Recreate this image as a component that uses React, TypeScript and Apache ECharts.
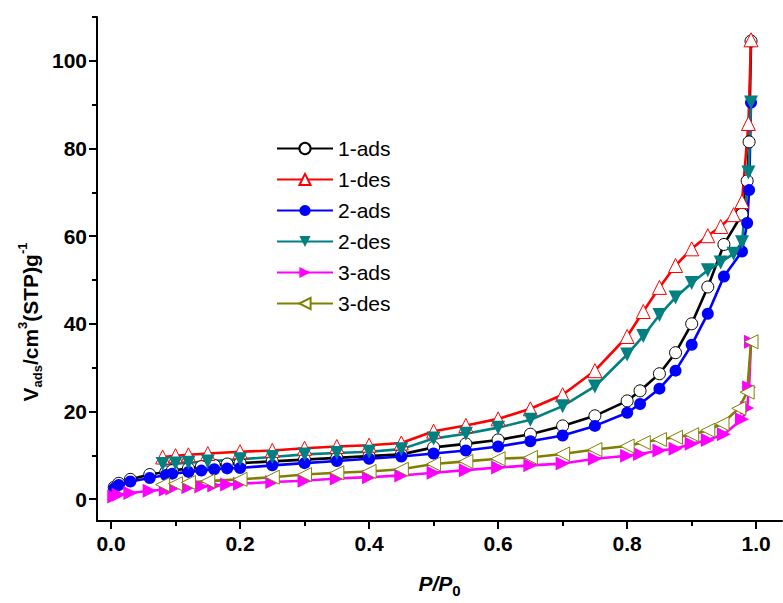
import React, { useEffect, useRef } from "react";
import * as echarts from "echarts";

// Relative pressure values (P/P0)
const adsP = [0.005, 0.012, 0.03, 0.06, 0.085, 0.095, 0.12, 0.14, 0.16, 0.18, 0.2, 0.25, 0.3, 0.35, 0.4, 0.45, 0.5, 0.55, 0.6, 0.65, 0.7, 0.75, 0.8, 0.82, 0.85, 0.875, 0.9, 0.925, 0.95, 0.978, 0.986, 0.989, 0.992];
const desP = [0.08, 0.1, 0.12, 0.15, 0.2, 0.25, 0.3, 0.35, 0.4, 0.45, 0.5, 0.55, 0.6, 0.65, 0.7, 0.75, 0.8, 0.825, 0.85, 0.875, 0.9, 0.925, 0.945, 0.965, 0.978, 0.988, 0.992];
const des3P = [0.08, 0.1, 0.12, 0.15, 0.2, 0.25, 0.3, 0.35, 0.4, 0.45, 0.5, 0.55, 0.6, 0.65, 0.7, 0.75, 0.8, 0.825, 0.85, 0.875, 0.9, 0.925, 0.947, 0.973, 0.986, 0.992];

// Adsorbed volumes (cm3(STP)/g)
const ads1 = [2.7, 3.6, 4.5, 5.6, 6.2, 6.5, 7.0, 7.4, 7.7, 8.0, 8.2, 8.6, 9.0, 9.4, 9.8, 10.2, 11.8, 12.6, 13.5, 14.8, 16.7, 19.0, 22.4, 24.7, 28.6, 33.4, 40.0, 48.4, 58.1, 65.0, 72.6, 81.5, 104.5];
const des1 = [9.6, 9.9, 10.1, 10.4, 10.8, 11.1, 11.6, 12.0, 12.3, 12.8, 15.5, 16.8, 18.3, 20.6, 23.8, 29.3, 37.1, 42.8, 48.3, 53.3, 57.1, 60.1, 62.2, 64.9, 67.9, 85.7, 104.8];
const ads2 = [2.4, 3.2, 4.0, 4.8, 5.5, 5.8, 6.2, 6.5, 6.8, 7.0, 7.1, 7.7, 8.2, 8.7, 9.2, 9.7, 10.4, 11.1, 12.0, 13.2, 14.5, 16.7, 19.7, 21.7, 25.2, 29.3, 35.2, 42.3, 50.8, 56.5, 63.0, 70.5, 90.5];
const des2 = [8.0, 8.1, 8.3, 8.6, 9.1, 9.6, 10.2, 10.5, 10.8, 11.4, 13.8, 14.9, 16.3, 18.1, 21.2, 25.7, 33.0, 37.2, 42.0, 46.0, 49.3, 52.2, 54.0, 56.0, 58.6, 74.5, 90.5];
const ads3 = [0.6, 1.0, 1.4, 1.9, 2.2, 2.4, 2.7, 2.9, 3.1, 3.3, 3.5, 3.9, 4.2, 4.7, 5.0, 5.4, 6.0, 6.6, 7.2, 7.7, 8.1, 9.2, 9.9, 10.3, 11.1, 11.5, 12.6, 13.5, 14.8, 18.2, 20.8, 25.5, 35.9];
const des3 = [3.3, 3.5, 3.8, 4.1, 4.5, 5.0, 5.6, 6.0, 6.3, 6.8, 8.0, 8.6, 9.2, 9.5, 10.3, 11.3, 12.1, 12.9, 13.6, 14.1, 14.7, 15.7, 17.2, 20.7, 24.4, 35.9];

// Ticks
const xMajorTicks = [0, 0.2, 0.4, 0.6, 0.8, 1.0];
const xMinorTicks = [0.1, 0.3, 0.5, 0.7, 0.9];
const yMajorTicks = [0, 20, 40, 60, 80, 100];
const yMinorTicks = [10, 30, 50, 70, 90, 110];

const FONT = 'Arial, "Liberation Sans", sans-serif';

const pairs = (xs: number[], ys: number[]) => xs.map((x, i) => [x, ys[i]]);

export default function App() {
  const ref = useRef<HTMLDivElement>(null);
  useEffect(() => {
    if (!ref.current) return;
    const chart = echarts.init(ref.current, null, { renderer: "svg" });
    const xMin = -0.0217, xMax = 1.04, yMin = -5, yMax = 110;
    const axisColor = "#000";
    const mk = (name: string, xs: number[], ys: number[], color: string, symbol: string, rotate: number, open: boolean, size: number) => ({
      name,
      type: "line",
      data: pairs(xs, ys),
      symbol,
      symbolRotate: rotate,
      symbolSize: size,
      showAllSymbol: true,
      lineStyle: { color, width: 2.6 },
      itemStyle: open
        ? { color: "#ffffff", borderColor: color, borderWidth: 1, opacity: 1 }
        : { color, borderColor: color, borderWidth: 0 },
      emphasis: { disabled: true },
    });
    chart.setOption({
      animation: false,
      backgroundColor: "#ffffff",
      grid: { left: 97, top: 17, width: 685, height: 509, containLabel: false },
      legend: {
        orient: "vertical",
        left: 271,
        top: 133,
        itemWidth: 56,
        itemHeight: 14,
        itemGap: 10,
        textStyle: { fontSize: 21, fontFamily: FONT, color: "#000", lineHeight: 20 },
        data: ["1-ads", "1-des", "2-ads", "2-des", "3-ads", "3-des"],
      },
      xAxis: [
        {
          type: "value",
          min: xMin,
          max: xMax,
          splitLine: { show: false },
          axisLine: { show: true, onZero: false, lineStyle: { color: axisColor, width: 2 } },
          axisTick: { show: true, customValues: xMajorTicks, length: 8, lineStyle: { color: axisColor, width: 2 } },
          axisLabel: {
            customValues: xMajorTicks,
            formatter: (v: number) => v.toFixed(1),
            fontSize: 21,
            fontWeight: "bold",
            fontFamily: FONT,
            color: "#000",
            margin: 12,
          },
          name: "{i|P/P}{s|0}",
          nameLocation: "middle",
          nameGap: 47,
          nameTextStyle: {
            rich: {
              i: { fontSize: 21, fontWeight: "bold", fontStyle: "italic", fontFamily: FONT, color: "#000", lineHeight: 30 },
              s: { fontSize: 15, fontWeight: "bold", fontFamily: FONT, color: "#000", lineHeight: 14, verticalAlign: "bottom" },
            },
          },
        },
        {
          type: "value",
          min: xMin,
          max: xMax,
          splitLine: { show: false },
          axisLine: { show: false, onZero: false },
          axisTick: { show: true, customValues: xMinorTicks, length: 5, lineStyle: { color: axisColor, width: 2 } },
          axisLabel: { show: false },
          position: "bottom",
        },
      ],
      yAxis: [
        {
          type: "value",
          min: yMin,
          max: yMax,
          splitLine: { show: false },
          axisLine: { show: true, onZero: false, lineStyle: { color: axisColor, width: 2 } },
          axisTick: { show: true, customValues: yMajorTicks, length: 8, lineStyle: { color: axisColor, width: 2 } },
          axisLabel: {
            customValues: yMajorTicks,
            fontSize: 21,
            fontWeight: "bold",
            fontFamily: FONT,
            color: "#000",
            margin: 10,
          },
        },
        {
          type: "value",
          min: yMin,
          max: yMax,
          position: "left",
          splitLine: { show: false },
          axisLine: { show: false, onZero: false },
          axisTick: { show: true, customValues: yMinorTicks, length: 5, lineStyle: { color: axisColor, width: 2 } },
          axisLabel: { show: false },
        },
      ],
      graphic: [
        {
          type: "text",
          x: 30,
          y: 322,
          rotation: Math.PI / 2,
          style: {
            text: "{v|V}{s|ads}{v|/cm}{p|3}{v|(STP)g}{p|-1}",
            align: "center",
            verticalAlign: "middle",
            rich: {
              v: { fontSize: 21, fontWeight: "bold", fontFamily: FONT, fill: "#000", lineHeight: 28 },
              s: { fontSize: 13, fontWeight: "bold", fontFamily: FONT, fill: "#000", lineHeight: 12, verticalAlign: "bottom" },
              p: { fontSize: 13, fontWeight: "bold", fontFamily: FONT, fill: "#000", lineHeight: 12, verticalAlign: "top" },
            },
          },
        },
      ],
      series: [
        mk("1-ads", adsP, ads1, "#000000", "circle", 0, true, 12),
        mk("1-des", desP, des1, "#ff0000", "triangle", 0, true, 14),
        mk("2-ads", adsP, ads2, "#0000ff", "circle", 0, false, 12),
        mk("2-des", desP, des2, "#008080", "triangle", 180, false, 14),
        mk("3-ads", adsP, ads3, "#ff00ff", "triangle", -90, false, 14),
        mk("3-des", des3P, des3, "#808000", "triangle", 90, true, 14),
      ],
    });
    return () => chart.dispose();
  }, []);
  return <div ref={ref} style={{ position: "absolute", left: 0, top: 0, width: 783, height: 603 }} />;
}
